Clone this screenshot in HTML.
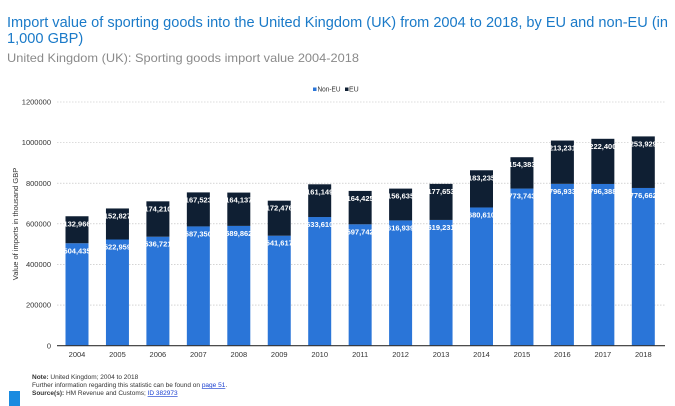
<!DOCTYPE html>
<html><head><meta charset="utf-8"><style>
html,body{margin:0;padding:0;background:#fff;width:675px;height:406px;overflow:hidden}
svg{display:block;font-family:"Liberation Sans",Arial,sans-serif}
</style></head><body>
<svg id="s" width="675" height="406" xmlns="http://www.w3.org/2000/svg">
<text x="7" y="27" font-size="14.6" fill="#1a7ac8" textLength="661" lengthAdjust="spacingAndGlyphs">Import value of sporting goods into the United Kingdom (UK) from 2004 to 2018, by EU and non-EU (in</text>
<text x="7" y="43" font-size="14.6" fill="#1a7ac8">1,000 GBP)</text>
<text x="7" y="62" font-size="12" fill="#8a8a8a" textLength="352" lengthAdjust="spacingAndGlyphs">United Kingdom (UK): Sporting goods import value 2004-2018</text>
<rect x="313" y="87.5" width="3.5" height="3.5" fill="#2a75d8"/>
<text x="317.5" y="91.5" font-size="7" fill="#333" textLength="23" lengthAdjust="spacingAndGlyphs">Non-EU</text>
<rect x="345" y="87.5" width="3.5" height="3.5" fill="#0f1f33"/>
<text x="349" y="91.5" font-size="7" fill="#333">EU</text>
<text transform="translate(18,224) rotate(-90)" text-anchor="middle" font-size="7.5" fill="#333">Value of imports in thousand GBP</text>
<g id="g"></g>
<line x1="57" y1="345.7" x2="665" y2="345.7" stroke="#333" stroke-width="1.2"/>
<text x="32" y="379" font-size="6.5" fill="#333"><tspan font-weight="bold">Note:</tspan> United Kingdom; 2004 to 2018</text>
<text x="32" y="387" font-size="6.5" fill="#333">Further information regarding this statistic can be found on <tspan fill="#1a3fd0" text-decoration="underline">page 51</tspan>.</text>
<text x="32" y="395" font-size="6.5" fill="#333"><tspan font-weight="bold">Source(s):</tspan> HM Revenue and Customs; <tspan fill="#1a3fd0" text-decoration="underline">ID 382973</tspan></text>
<rect x="9" y="391" width="11" height="15" fill="#1a8be0"/>
</svg>
<script>
var d=[[504435,132966],[522959,152827],[536721,174210],[587350,167523],[589862,164137],[541617,172476],[633610,161149],[597742,164425],[616939,156635],[619231,177653],[680610,183235],[773743,154383],[796933,213231],[796388,222400],[776662,253929]];
var y0=345.7,k=243.7/1200000,h='';
for(var v=0;v<=1200000;v+=200000){var y=y0-v*k;
 if(v>0)h+='<line x1="57" y1="'+y+'" x2="665" y2="'+y+'" stroke="#bbb" stroke-width="0.6" stroke-dasharray="1.5,1.5"/>';
 h+='<text x="51" y="'+(y+2.6)+'" text-anchor="end" font-size="7.5" fill="#333">'+v+'</text>';}
function f(n){return n.toString().replace(/\B(?=(\d{3})+(?!\d))/g,',');}
d.forEach(function(p,i){var cx=77+i*40.45,w=23,x=cx-w/2;
 var yb=y0-p[0]*k,ye=y0-(p[0]+p[1])*k;
 h+='<rect x="'+x+'" y="'+yb+'" width="'+w+'" height="'+(y0-yb)+'" fill="#2a75d8"/>';
 h+='<rect x="'+x+'" y="'+ye+'" width="'+w+'" height="'+(yb-ye)+'" fill="#0f1f33"/>';
 h+='<text x="'+cx+'" y="'+(yb+10)+'" text-anchor="middle" font-size="7.5" font-weight="bold" fill="#fff">'+f(p[0])+'</text>';
 h+='<text x="'+cx+'" y="'+(ye+10)+'" text-anchor="middle" font-size="7.5" font-weight="bold" fill="#fff">'+f(p[1])+'</text>';
 h+='<text x="'+cx+'" y="357" text-anchor="middle" font-size="7.5" fill="#333">'+(2004+i)+'</text>';});
document.getElementById('g').innerHTML=h;
</script>
</body></html>
